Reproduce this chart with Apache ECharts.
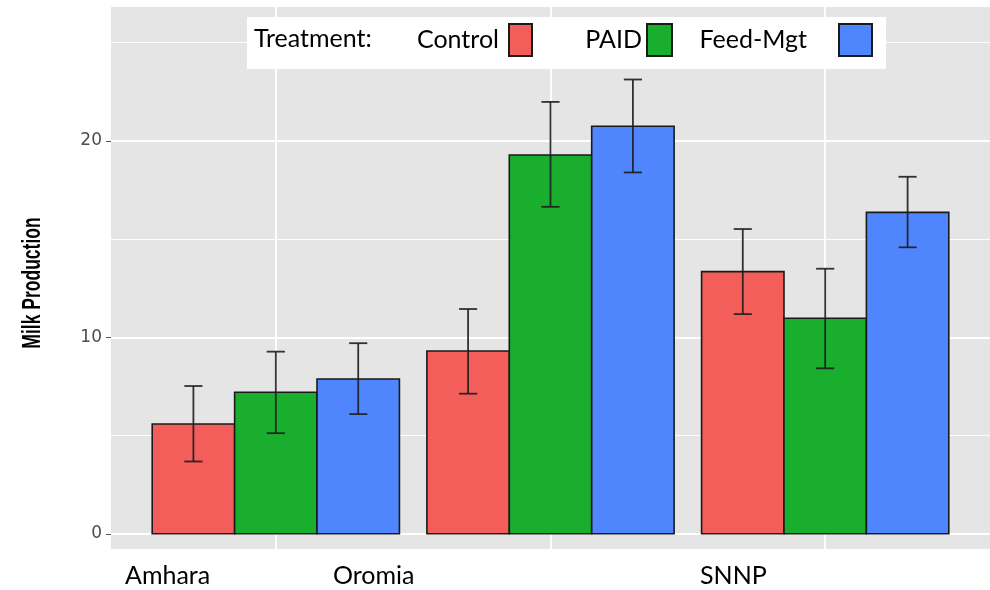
<!DOCTYPE html>
<html>
<head>
<meta charset="utf-8">
<script src="https://cdn.jsdelivr.net/npm/echarts@6/dist/echarts.min.js"></script>
<style>html,body{margin:0;padding:0;background:#fff}#c{width:990px;height:590px}</style>
</head>
<body>
<div id="c"></div>
<script>
const regions = ['Amhara', 'Oromia', 'SNNP'];
const treatments = ['Control', 'PAID', 'Feed-Mgt'];
const controlMean = [5.59, 9.30, 13.34];
const controlLow  = [3.68, 7.13, 11.18];
const controlHigh = [7.52, 11.44, 15.51];
const paidMean = [7.20, 19.28, 10.97];
const paidLow  = [5.12, 16.64, 8.42];
const paidHigh = [9.27, 21.98, 13.49];
const feedMean = [7.88, 20.74, 16.36];
const feedLow  = [6.09, 18.39, 14.58];
const feedHigh = [9.70, 23.12, 18.17];
const yMajorTicks = [0, 10, 20];
const yMinorTicks = [5, 15, 25];
const yTitle = 'Milk Production';
const legendTitle = 'Treatment:';

const colors = ['#F35E5A', '#19AE2E', '#4F86FE'];
const means = [controlMean, paidMean, feedMean];
const lows = [controlLow, paidLow, feedLow];
const highs = [controlHigh, paidHigh, feedHigh];

function buildData(k) {
  return regions.map((r, i) => [i + 1, means[k][i], lows[k][i], highs[k][i]]);
}

function makeRender(k) {
  return function (params, api) {
    const xc = api.value(0) + (k - 1) * 0.3;
    const m = api.value(1), lo = api.value(2), hi = api.value(3);
    const p0 = api.coord([xc - 0.15, m]);
    const p1 = api.coord([xc + 0.15, 0]);
    const top = api.coord([xc, hi]);
    const bot = api.coord([xc, lo]);
    const capHalf = api.size([0.033, 0])[0];
    const es = { stroke: '#1e1e1e', lineWidth: 1.8, opacity: 0.9 };
    return {
      type: 'group',
      children: [
        { type: 'rect', shape: { x: p0[0], y: p0[1], width: p1[0] - p0[0], height: p1[1] - p0[1] },
          style: { fill: colors[k], stroke: '#1a1a1a', lineWidth: 1.6 } },
        { type: 'line', shape: { x1: top[0], y1: top[1], x2: bot[0], y2: bot[1] }, style: es },
        { type: 'line', shape: { x1: top[0] - capHalf, y1: top[1], x2: top[0] + capHalf, y2: top[1] }, style: es },
        { type: 'line', shape: { x1: bot[0] - capHalf, y1: bot[1], x2: bot[0] + capHalf, y2: bot[1] }, style: es }
      ]
    };
  };
}

const legendFont = 'Lato, "Open Sans", sans-serif';
const iconWidths = [23, 25, 33];
const legendRights = [457, 317, 117];
const textPads = [5, 0, 27];

const chart = echarts.init(document.getElementById('c'), null, { renderer: 'canvas' });
chart.setOption({
  animation: false,
  backgroundColor: '#ffffff',
  grid: { left: 111, right: 0, top: 7, bottom: 41, show: true, backgroundColor: '#E5E5E5', borderWidth: 0 },
  xAxis: {
    type: 'value', min: 0.4, max: 3.6,
    axisLine: { show: false },
    axisTick: { show: false, customValues: [1, 2, 3] },
    axisLabel: { show: false, customValues: [1, 2, 3] },
    splitLine: { show: true, lineStyle: { color: '#ffffff', width: 1.8 } }
  },
  yAxis: [
    {
      type: 'value', min: -0.774, max: 26.81,
      axisLine: { show: false },
      axisTick: { show: true, length: 5, customValues: yMajorTicks, lineStyle: { color: '#555555', width: 1 } },
      axisLabel: { show: true, customValues: yMajorTicks, margin: 9, color: '#4D4D4D',
        fontFamily: '"DejaVu Sans", sans-serif', fontSize: 17 },
      splitLine: { show: true, lineStyle: { color: '#ffffff', width: 1.8 } }
    },
    {
      type: 'value', min: -0.774, max: 26.81,
      axisLine: { show: false },
      axisTick: { show: false, customValues: yMinorTicks },
      axisLabel: { show: false, customValues: yMinorTicks },
      splitLine: { show: true, lineStyle: { color: '#ffffff', width: 1 } }
    }
  ],
  legend: treatments.map((t, k) => ({
    data: [t], right: legendRights[k], top: 23, padding: 0, align: 'right',
    itemWidth: iconWidths[k], itemHeight: 32, icon: 'rect',
    itemStyle: { borderColor: '#1a1a1a', borderWidth: 2 },
    textStyle: { fontFamily: legendFont, fontSize: 25, color: '#000', padding: [0, textPads[k], 0, 0] },
    selectedMode: false
  })),
  graphic: [
    { type: 'rect', left: 247, top: 17, shape: { width: 639, height: 52 }, style: { fill: '#ffffff' }, z: 1, zlevel: 0 },
    { type: 'text', left: 254, top: 26, style: { text: legendTitle, font: '25px ' + legendFont, fill: '#000' }, z: 2 },
    { type: 'text', x: 33, y: 283, rotation: Math.PI / 2, scaleX: 0.70,
      style: { text: yTitle, font: 'bold 25px "Liberation Sans", Arial, sans-serif', fill: '#000',
        textAlign: 'center', textVerticalAlign: 'middle' } },
    { type: 'text', left: 125, top: 563, style: { text: regions[0], font: '25px ' + legendFont, fill: '#000' } },
    { type: 'text', left: 333, top: 563, style: { text: regions[1], font: '25px ' + legendFont, fill: '#000' } },
    { type: 'text', left: 700, top: 563, style: { text: regions[2], font: '25px ' + legendFont, fill: '#000' } }
  ],
  series: treatments.map((t, k) => ({
    name: t,
    type: 'custom',
    xAxisIndex: 0,
    yAxisIndex: 0,
    renderItem: makeRender(k),
    encode: { x: 0, y: [1, 2, 3] },
    itemStyle: { color: colors[k] },
    data: buildData(k)
  }))
});
</script>
</body>
</html>
